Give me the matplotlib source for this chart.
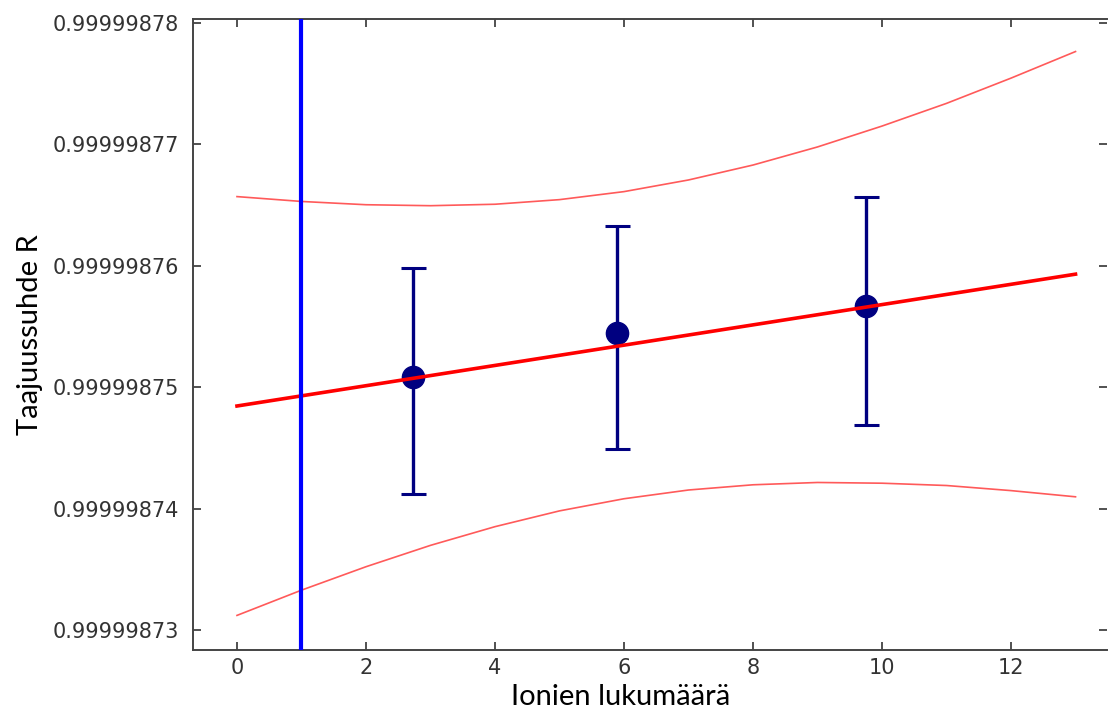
import matplotlib
matplotlib.use("Agg")
import matplotlib.pyplot as plt
import numpy as np

# measured points (ion count, frequency ratio, error bar ends)
ions = [2.73, 5.89, 9.75]
ratio = [0.99999875084, 0.99999875446, 0.99999875670]
err_lo = [0.99999874120, 0.99999874490, 0.99999874690]
err_hi = [0.99999875980, 0.99999876330, 0.99999876570]

# fitted line and confidence band, read at integer x
fit_x = [0, 13]
fit_y = [0.99999874845, 0.99999875931]
band_x = list(range(14))
band_hi = [0.9999987657, 0.9999987653, 0.99999876503, 0.99999876495, 0.99999876507,
           0.99999876545, 0.99999876611, 0.99999876707, 0.9999987683, 0.99999876979,
           0.99999877151, 0.99999877338, 0.99999877546, 0.99999877765]
band_lo = [0.9999987312, 0.99999873328, 0.99999873521, 0.99999873697, 0.99999873851,
           0.99999873981, 0.99999874081, 0.99999874153, 0.99999874196, 0.99999874215,
           0.99999874209, 0.9999987419, 0.99999874148, 0.99999874097]

vline_x = 1

yticks = [0.99999873, 0.99999874, 0.99999875, 0.99999876, 0.99999877, 0.99999878]
ytick_labels = ["0.99999873", "0.99999874", "0.99999875", "0.99999876",
                "0.99999877", "0.99999878"]
xticks = [0, 2, 4, 6, 8, 10, 12]

fig = plt.figure(figsize=(11.13, 7.13), dpi=100)
ax = fig.add_axes([193 / 1113, 1 - 650 / 713, (1107 - 193) / 1113, (650 - 19) / 713])

ax.plot(band_x, band_hi, color="#ff5a5a", lw=1.2)
ax.plot(band_x, band_lo, color="#ff5a5a", lw=1.2)
ax.plot(fit_x, fit_y, color="#ff0000", lw=2.6, zorder=4)
ax.axvline(vline_x, color="#0000ff", lw=3, zorder=5)

r = np.array(ratio)
yerr = [r - np.array(err_lo), np.array(err_hi) - r]
ax.errorbar(ions, ratio, yerr=yerr, fmt="o", color="#000080", ms=16,
            elinewidth=2.4, capsize=9, capthick=2.2, zorder=3)

ax.set_xlim(-0.682, 13.488)
ax.set_ylim(0.99999872835, 0.99999878033)
ax.set_xticks(xticks)
ax.set_yticks(yticks)
ax.set_yticklabels(ytick_labels)

for s in ["left", "bottom", "top"]:
    ax.spines[s].set_color("#444444")
    ax.spines[s].set_linewidth(1.4)
ax.spines["right"].set_visible(False)

ax.tick_params(direction="in", length=6, width=1.2, colors="#333333",
               labelsize=15, top=True, right=True)
ax.tick_params(axis="y", pad=10)
ax.tick_params(axis="x", pad=6)

fig.text(621 / 1113, 1 - 697 / 713, "Ionien lukumäärä", family="Lato",
         fontsize=21, ha="center", va="center", color="black")
fig.text(30 / 1113, 1 - 335 / 713, "Taajuussuhde R", family="Lato",
         fontsize=21, ha="center", va="center", rotation=90, color="black")

fig.savefig("out.png", dpi=100)
